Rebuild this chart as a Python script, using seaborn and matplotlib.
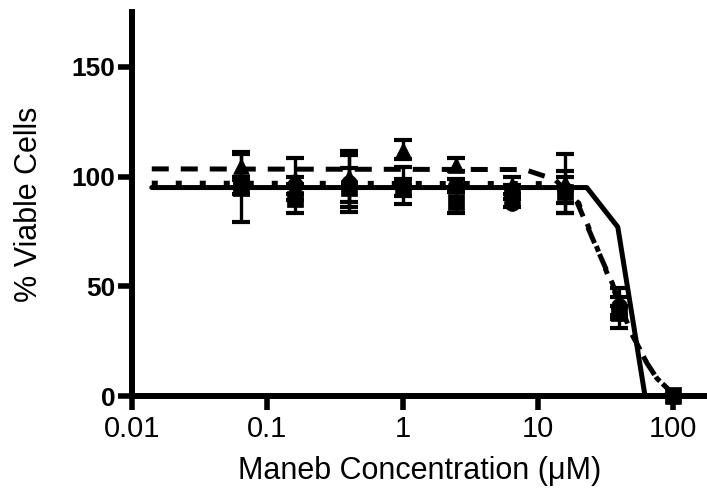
import numpy as np
import pandas as pd
import matplotlib
matplotlib.use("Agg")
import matplotlib.pyplot as plt
import seaborn as sns

# ---- data ----
conc = [0.064, 0.16, 0.4, 1.0, 2.5, 6.4, 16.0, 40.0, 100.0]

circle_mean = [96, 96, 97, 96, 96, 88, 94, 41, 0]
circle_err = [4, 4, 13, 8.5, 3, 2, 6, 4, 0]

square_mean = [95, 90, 95, 95, 88.5, 93, 93, 38, 0.5]
square_err = [15.5, 6.5, 9, 4, 5, 3, 9.5, 3, 0]

triangle_mean = [104.7, 99, 100, 112.3, 105.5, 96, 97, 40, 0]
triangle_err = [6.4, 9.5, 11.5, 4.3, 3, 4, 13.5, 9, 0]

# fitted curves
solid_x = [0.014, 23, 39, 62, 100]
solid_y = [95, 95, 77, 0, 0]
dashed_x = [0.014, 8, 13.4, 19.4, 25.7, 35.4, 48, 64, 76, 100]
dashed_y = [103.5, 103.2, 98.6, 88.6, 71, 51.6, 30, 15, 8, 1]
dotted_x = [0.014, 12, 16, 20, 26, 35, 48, 64, 76, 100]
dotted_y = [97, 96.8, 94, 88, 71, 51, 30, 15, 8, 1]

x_ticks = [0.01, 0.1, 1, 10, 100]
x_tick_labels = ["0.01", "0.1", "1", "10", "100"]
y_ticks = [0, 50, 100, 150]
y_tick_labels = ["0", "50", "100", "150"]

sns.set_theme(style="white")
plt.rcParams["font.family"] = ["Liberation Sans", "DejaVu Sans"]
plt.rcParams["text.color"] = "black"
plt.rcParams["axes.labelcolor"] = "black"
plt.rcParams["xtick.color"] = "black"
plt.rcParams["ytick.color"] = "black"

fig = plt.figure(figsize=(7.07, 4.96), dpi=100)
ax = fig.add_axes([132 / 707, 100 / 496, 575 / 707, 384 / 496])

lw = 3.6
sns.lineplot(x=solid_x, y=solid_y, ax=ax, color="black", linewidth=lw,
             linestyle="-", sort=False)
sns.lineplot(x=dashed_x, y=dashed_y, ax=ax, color="black", linewidth=lw,
             linestyle=(0, (3.4, 2.4)), sort=False)
sns.lineplot(x=dotted_x, y=dotted_y, ax=ax, color="black", linewidth=lw,
             linestyle=(0, (1.2, 3.6)), sort=False)

for means, errs, mk in [(square_mean, square_err, "s"),
                        (circle_mean, circle_err, "o"),
                        (triangle_mean, triangle_err, "^")]:
    ax.errorbar(conc, means, yerr=errs, fmt="none", ecolor="black",
                elinewidth=2.4, capsize=6.5, capthick=3.0, zorder=3)
    df = pd.DataFrame({"x": conc, "y": means})
    sns.scatterplot(data=df, x="x", y="y", ax=ax, marker=mk, s=130,
                    color="black", edgecolor="black", linewidth=0.5,
                    zorder=4, clip_on=False)

ax.set_xscale("log")
ax.set_xlim(0.01, 178)
ax.set_ylim(0, 175)

ax.set_xticks(x_ticks)
ax.set_xticklabels(x_tick_labels)
ax.set_yticks(y_ticks)
ax.set_yticklabels(y_tick_labels, fontweight="bold")
ax.xaxis.set_minor_locator(matplotlib.ticker.NullLocator())

ax.tick_params(axis="x", direction="out", length=10, width=4, labelsize=21,
               pad=4, color="black", bottom=True, labelcolor="black")
ax.tick_params(axis="y", direction="out", length=10, width=4, labelsize=19,
               pad=2, color="black", left=True, labelcolor="black")

for side in ["top", "right"]:
    ax.spines[side].set_visible(False)
for side in ["left", "bottom"]:
    ax.spines[side].set_linewidth(4.3)
    ax.spines[side].set_color("black")

ax.set_xlabel("Maneb Concentration (\u03bcM)", fontsize=22, labelpad=9,
              color="black")
ax.set_ylabel("% Viable Cells", fontsize=22, labelpad=20, color="black")

fig.savefig("out.png", dpi=100)
